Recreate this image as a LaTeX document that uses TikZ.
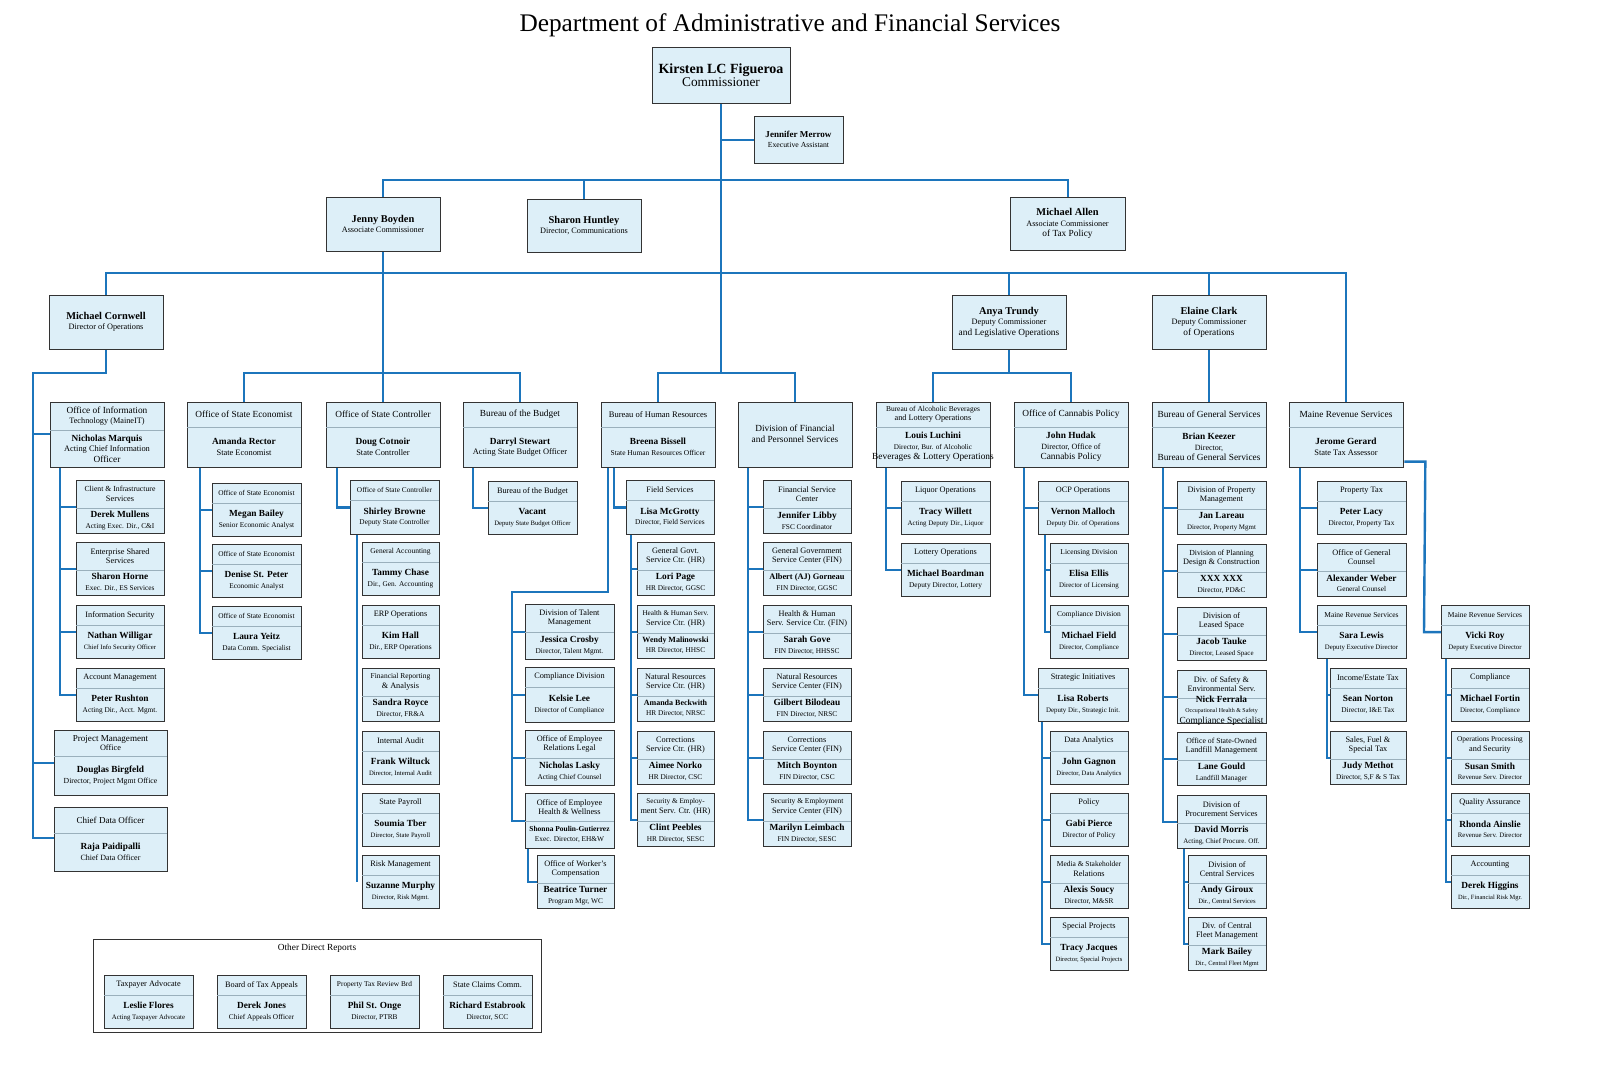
\documentclass[tikz,border=0pt]{standalone}
\usepackage{fontspec}
\setmainfont{Liberation Serif}
\newcommand\fs[1]{\fontsize{#1pt}{\dimexpr#1pt+0.9pt\relax}\selectfont}
\newcommand\ts{\fs{5.5}}
\definecolor{lnc}{HTML}{1C75BC}
\definecolor{bxf}{HTML}{DDEFF8}
\definecolor{bxd}{HTML}{333333}
\definecolor{dvc}{HTML}{9AB0BC}
\tikzset{
 bx/.style={draw=bxd,fill=bxf,line width=1pt,anchor=north west,inner sep=0pt},
 dv/.style={draw=dvc,line width=0.5pt},
 hd/.style={align=center,inner sep=0pt,font=\fs{6.2}},
 nm/.style={align=center,inner sep=0pt,font=\fs{7}},
 ln/.style={draw=lnc,line width=1.8pt},
}
\newcommand\ob[9]{%
\node[bx,minimum width={#4*0.75pt},minimum height={#5*0.75pt}] (#1) at (#2,#3) {};
\ifnum#6>0\relax
\draw[dv] (#2,#3+#6) -- ++(#4,0);
\node[hd] at ({#2+#4/2},{#3+#6/2}) {#7};
\fi
\node[nm] at ({#2+#4/2},{#3+(#6+#5)/2}) {\textbf{#8}\\\ts #9};}
\newcommand\spn[4]{\draw[ln] (#1.south -| #2,0) -- (#3.west -| #2,0) -- (#3.west);
\foreach \c in {#4}{\draw[ln] (\c.west -| #2,0) -- (\c.west);}}
\begin{document}
\begin{tikzpicture}[x=0.75pt,y=-0.75pt]
\useasboundingbox (0,0) rectangle (1600,1091);
\node[font=\fs{19}] (title) at (790,25) {Department of Administrative and Financial Services};
% ---------- connectors (drawn first) ----------
\coordinate (k0) at (721,103);
\draw[ln] (k0) -- (721,373);
\draw[ln] (721,140) -- (754,140);
\draw[ln] (383,197) -- (383,180) -- (1068,180) -- (1068,197);
\draw[ln] (584,180) -- (584,199);
\draw[ln] (106,295) -- (106,273) -- (1346,273) -- (1346,402);
\draw[ln] (1009,273) -- (1009,295);
\draw[ln] (1209,273) -- (1209,295);
\draw[ln] (383,251) -- (383,402);
\draw[ln] (244,402) -- (244,373) -- (520,373) -- (520,402);
\draw[ln] (658,402) -- (658,373) -- (795,373) -- (795,402);
\draw[ln] (1009,349) -- (1009,373);
\draw[ln] (933,402) -- (933,373) -- (1071,373) -- (1071,402);
\draw[ln] (1209,349) -- (1209,402);
\draw[ln] (106,349) -- (106,373) -- (33,373) -- (33,838) -- (54,838);
\draw[ln] (33,434) -- (50,434);
\draw[ln] (33,763) -- (54,763);
% ---------- top ----------
\ob{kf}{652}{47}{138}{56}{0}{}{\fs{10.5}Kirsten LC Figueroa}{\fs{10}Commissioner}
\ob{jm}{754}{116}{89}{47}{0}{}{\fs{6.8}Jennifer Merrow}{\fs{5.8}Executive Assistant}
\ob{jb}{326}{197}{114}{54}{0}{}{\fs{7.8}Jenny Boyden}{\fs{6.2}Associate Commissioner}
\ob{sh}{527}{199}{114}{53}{0}{}{\fs{7.8}Sharon Huntley}{\fs{6.2}Director, Communications}
\ob{ma}{1010}{197}{115}{53}{0}{}{\fs{7.8}Michael Allen}{\fs{6.2}Associate Commissioner\\of Tax Policy}
\ob{mc}{49}{295}{114}{54}{0}{}{\fs{7.8}Michael Cornwell}{\fs{6.2}Director of Operations}
\ob{at}{952}{295}{114}{54}{0}{}{\fs{7.8}Anya Trundy}{\fs{6.2}Deputy Commissioner\\and Legislative Operations}
\ob{ec}{1152}{295}{114}{54}{0}{}{\fs{7.8}Elaine Clark}{\fs{6.2}Deputy Commissioner\\of Operations}
% ---------- row 3 ----------
\ob{mit}{50}{402}{114}{65}{28}{\fs{7}Office of Information\\Technology (MaineIT)}{Nicholas Marquis}{\fs{6.3}Acting Chief Information\\Officer}
\ob{ose}{187}{402}{114}{65}{25}{\fs{7}Office of State Economist}{Amanda Rector}{\fs{6.3}State Economist}
\ob{osc}{326}{402}{114}{65}{25}{\fs{7}Office of State Controller}{Doug Cotnoir}{\fs{6.3}State Controller}
\ob{bob}{463}{402}{114}{65}{25}{\fs{7}Bureau of the Budget}{Darryl Stewart}{\fs{6.3}Acting State Budget Officer}
\ob{hr}{601}{402}{114}{65}{25}{\fs{6.4}Bureau of Human Resources}{Breena Bissell}{\fs{5.6}State Human Resources Officer}
\node[bx,minimum width=85.5pt,minimum height=48.75pt] (dfps) at (738,402) {};
\node[hd,font=\fs{7}] at (795,434) {Division of Financial\\and Personnel Services};
\ob{ablo}{876}{402}{114}{65}{25}{\fs{5.6}Bureau of Alcoholic Beverages\\and Lottery Operations}{Louis Luchini}{\fs{5.4}Director, Bur. of Alcoholic\\Beverages \& Lottery Operations}
\ob{can}{1014}{402}{114}{65}{25}{\fs{7}Office of Cannabis Policy}{John Hudak}{\fs{6}Director, Office of\\Cannabis Policy}
\ob{bgs}{1152}{402}{114}{65}{25}{\fs{7}Bureau of General Services}{Brian Keezer}{\fs{6}Director,\\Bureau of General Services}
\ob{mrs}{1289}{402}{114}{65}{25}{\fs{7}Maine Revenue Services}{Jerome Gerard}{\fs{6.3}State Tax Assessor}
% ---------- MaineIT ----------
\ob{cis}{76}{480}{88}{53}{28}{\fs{5.8}Client \& Infrastructure\\Services}{Derek Mullens}{Acting Exec. Dir., C\&I}
\ob{ess}{76}{542}{88}{53}{28}{Enterprise Shared\\Services}{Sharon Horne}{Exec. Dir., ES Services}
\ob{ins}{76}{605}{88}{53}{20}{Information Security}{Nathan Willigar}{\fs{5}Chief Info Security Officer}
\ob{acm}{76}{668}{88}{53}{20}{Account Management}{Peter Rushton}{Acting Dir., Acct. Mgmt.}
\spn{mit}{60}{acm}{cis,ess,ins}
\ob{pmo}{54}{730}{113}{65}{26}{\fs{6.8}Project Management\\Office}{Douglas Birgfeld}{\fs{5.8}Director, Project Mgmt Office}
\ob{cdo}{54}{807}{113}{64}{26}{\fs{6.8}Chief Data Officer}{Raja Paidipalli}{\fs{6}Chief Data Officer}
% ---------- Economist ----------
\ob{eco1}{212}{483}{89}{53}{20}{\fs{5.5}Office of State Economist}{Megan Bailey}{Senior Economic Analyst}
\ob{eco2}{212}{544}{89}{53}{20}{\fs{5.5}Office of State Economist}{Denise St. Peter}{Economic Analyst}
\ob{eco3}{212}{606}{89}{53}{20}{\fs{5.5}Office of State Economist}{Laura Yeitz}{Data Comm. Specialist}
\spn{ose}{200}{eco3}{eco1,eco2}
% ---------- Controller ----------
\ob{sb}{350}{480}{89}{54}{20}{\fs{5.5}Office of State Controller}{Shirley Browne}{Deputy State Controller}
\spn{osc}{337}{sb}{sb}
\ob{ga}{362}{542}{77}{53}{20}{\fs{5.6}General Accounting}{Tammy Chase}{Dir., Gen. Accounting}
\ob{erp}{362}{605}{77}{53}{20}{ERP Operations}{Kim Hall}{Dir., ERP Operations}
\ob{fra}{362}{668}{77}{53}{28}{\fs{5.6}Financial Reporting\\\& Analysis}{Sandra Royce}{Director, FR\&A}
\ob{ia}{362}{731}{77}{53}{20}{Internal Audit}{Frank Wiltuck}{\fs{5}Director, Internal Audit}
\ob{sp}{362}{793}{77}{53}{20}{State Payroll}{Soumia Tber}{\fs{5}Director, State Payroll}
\ob{rm}{362}{855}{77}{53}{20}{Risk Management}{Suzanne Murphy}{\fs{5}Director, Risk Mgmt.}
\draw[ln] (sb.south -| 357,0) -- (rm.west -| 357,0);
% ---------- Budget ----------
\ob{bb}{488}{481}{89}{53}{20}{Bureau of the Budget}{Vacant}{\fs{5}Deputy State Budget Officer}
\spn{bob}{473}{bb}{bb}
% ---------- HR ----------
\ob{fs}{626}{480}{88}{54}{20}{Field Services}{Lisa McGrotty}{Director, Field Services}
\spn{hr}{614}{fs}{fs}
\ob{gg}{637}{542}{77}{53}{28}{General Govt.\\Service Ctr. (HR)}{Lori Page}{HR Director, GGSC}
\ob{hh}{637}{605}{77}{53}{28}{\fs{5.4}Health \& Human Serv.\\Service Ctr. (HR)}{\fs{6}Wendy Malinowski}{HR Director, HHSC}
\ob{nr}{637}{668}{77}{53}{28}{Natural Resources\\Service Ctr. (HR)}{\fs{6}Amanda Beckwith}{HR Director, NRSC}
\ob{cs}{637}{731}{77}{53}{28}{Corrections\\Service Ctr. (HR)}{Aimee Norko}{HR Director, CSC}
\ob{se}{637}{793}{77}{53}{28}{\fs{5.4}Security \& Employ-\\ment Serv. Ctr. (HR)}{Clint Peebles}{HR Director, SESC}
\spn{fs}{631}{se}{gg,hh,nr,cs}
\ob{tm}{525}{604}{89}{55}{28}{Division of Talent\\Management}{Jessica Crosby}{Director, Talent Mgmt.}
\ob{cd}{525}{667}{89}{55}{20}{Compliance Division}{Kelsie Lee}{Director of Compliance}
\ob{erl}{525}{730}{89}{55}{28}{Office of Employee\\Relations Legal}{Nicholas Lasky}{Acting Chief Counsel}
\ob{ehw}{525}{793}{89}{55}{28}{Office of Employee\\Health \& Wellness}{\fs{5.6}Shonna Poulin-Gutierrez}{Exec. Director, EH\&W}
\draw[ln] (hr.south -| 608,0) -- (608,592) -- (512,592) -- (ehw.west -| 512,0) -- (ehw.west);
\foreach \c in {tm,cd,erl}{\draw[ln] (\c.west -| 512,0) -- (\c.west);}
\ob{wc}{537}{855}{77}{53}{28}{Office of Worker's\\Compensation}{Beatrice Turner}{Program Mgr, WC}
\spn{ehw}{528}{wc}{wc}
% ---------- DFPS ----------
\ob{fsc}{763}{480}{88}{53}{28}{Financial Service\\Center}{Jennifer Libby}{FSC Coordinator}
\ob{ggf}{763}{542}{88}{53}{28}{General Government\\Service Center (FIN)}{\fs{6.3}Albert (AJ) Gorneau}{FIN Director, GGSC}
\ob{hhf}{763}{605}{88}{53}{28}{Health \& Human\\Serv. Service Ctr. (FIN)}{Sarah Gove}{FIN Director, HHSSC}
\ob{nrf}{763}{668}{88}{53}{28}{Natural Resources\\Service Center (FIN)}{Gilbert Bilodeau}{FIN Director, NRSC}
\ob{csf}{763}{731}{88}{53}{28}{Corrections\\Service Center (FIN)}{Mitch Boynton}{FIN Director, CSC}
\ob{sef}{763}{793}{88}{53}{28}{\fs{5.6}Security \& Employment\\Service Center (FIN)}{Marilyn Leimbach}{FIN Director, SESC}
\spn{dfps}{748}{sef}{fsc,ggf,hhf,nrf,csf}
% ---------- ABLO ----------
\ob{lq}{901}{481}{89}{53}{20}{Liquor Operations}{Tracy Willett}{\fs{5.2}Acting Deputy Dir., Liquor}
\ob{lo}{901}{543}{89}{53}{20}{Lottery Operations}{Michael Boardman}{Deputy Director, Lottery}
\spn{ablo}{886}{lo}{lq}
% ---------- Cannabis ----------
\ob{ocp}{1038}{481}{90}{53}{20}{OCP Operations}{Vernon Malloch}{\fs{5.2}Deputy Dir. of Operations}
\ob{si}{1038}{668}{90}{53}{20}{Strategic Initiatives}{Lisa Roberts}{\fs{5.2}Deputy Dir., Strategic Init.}
\spn{can}{1024}{si}{ocp}
\ob{ld}{1050}{543}{78}{53}{20}{\fs{5.6}Licensing Division}{Elisa Ellis}{\fs{5.2}Director of Licensing}
\ob{cpd}{1050}{605}{78}{53}{20}{\fs{5.6}Compliance Division}{Michael Field}{\fs{5.2}Director, Compliance}
\spn{ocp}{1045}{cpd}{ld}
\ob{da}{1050}{731}{78}{53}{20}{Data Analytics}{John Gagnon}{\fs{5}Director, Data Analytics}
\ob{pol}{1050}{793}{78}{53}{20}{Policy}{Gabi Pierce}{Director of Policy}
\ob{msr}{1050}{855}{78}{53}{28}{\fs{5.6}Media \& Stakeholder\\Relations}{Alexis Soucy}{Director, M\&SR}
\ob{spj}{1050}{917}{78}{53}{20}{Special Projects}{Tracy Jacques}{\fs{4.9}Director, Special Projects}
\spn{si}{1042}{spj}{da,pol,msr}
% ---------- BGS ----------
\ob{dpm}{1177}{481}{89}{53}{28}{Division of Property\\Management}{Jan Lareau}{\fs{5.2}Director, Property Mgmt}
\ob{dpd}{1177}{544}{89}{53}{28}{\fs{5.8}Division of Planning\\Design \& Construction}{XXX XXX}{Director, PD\&C}
\ob{dls}{1177}{607}{89}{53}{28}{Division of\\Leased Space}{Jacob Tauke}{\fs{5.2}Director, Leased Space}
\ob{dse}{1177}{670}{89}{53}{28}{Div. of Safety \&\\Environmental Serv.}{Nick Ferrala}{\fs{4.5}Occupational Health \& Safety\\Compliance Specialist}
\ob{osl}{1177}{732}{89}{53}{28}{\fs{5.8}Office of State-Owned\\Landfill Management}{Lane Gould}{Landfill Manager}
\ob{dps}{1177}{795}{89}{53}{28}{Division of\\Procurement Services}{David Morris}{\fs{5.2}Acting, Chief Procure. Off.}
\spn{bgs}{1163}{dps}{dpm,dpd,dls,dse,osl}
\ob{dcs}{1188}{855}{78}{53}{28}{Division of\\Central Services}{Andy Giroux}{\fs{5}Dir., Central Services}
\ob{dcf}{1188}{917}{78}{53}{28}{Div. of Central\\Fleet Management}{Mark Bailey}{\fs{4.8}Dir., Central Fleet Mgmt}
\spn{dps}{1184}{dcf}{dcs}
% ---------- MRS ----------
\ob{pt}{1317}{481}{89}{53}{20}{Property Tax}{Peter Lacy}{Director,  Property Tax}
\ob{ogc}{1317}{543}{89}{53}{28}{Office of General\\Counsel}{Alexander Weber}{General Counsel}
\ob{sl}{1317}{605}{89}{53}{20}{\fs{5.6}Maine Revenue Services}{Sara Lewis}{\fs{5.1}Deputy Executive Director}
\spn{mrs}{1300}{sl}{pt,ogc}
\ob{iet}{1330}{668}{76}{53}{20}{Income/Estate Tax}{Sean Norton}{Director, I\&E Tax}
\ob{sfs}{1330}{731}{76}{53}{28}{Sales, Fuel \&\\Special Tax}{Judy Methot}{Director, S,F \& S Tax}
\spn{sl}{1327}{sfs}{iet}
\ob{vr}{1441}{605}{88}{53}{20}{\fs{5.6}Maine Revenue Services}{Vicki Roy}{\fs{5.1}Deputy Executive Director}
\draw[ln] ([yshift=5pt]mrs.south east) -- ++(21,0) -- (vr.west -| 1424,0) -- (vr.west);
\ob{cmp}{1451}{668}{78}{53}{20}{Compliance}{Michael Fortin}{\fs{5.2}Director, Compliance}
\ob{ops}{1451}{731}{78}{53}{28}{\fs{5.5}Operations Processing\\and Security}{Susan Smith}{\fs{5.1}Revenue Serv. Director}
\ob{qa}{1451}{793}{78}{53}{20}{Quality Assurance}{Rhonda Ainslie}{\fs{5.1}Revenue Serv. Director}
\ob{acc}{1451}{855}{78}{53}{20}{Accounting}{Derek Higgins}{\fs{4.8}Dir., Financial Risk Mgr.}
\spn{vr}{1446}{acc}{cmp,ops,qa}
% ---------- Other direct reports ----------
\node[draw=bxd,line width=0.8pt,anchor=north west,minimum width=336pt,minimum height=69.75pt,inner sep=0pt] (odr) at (93,939) {};
\node[font=\fs{7}] (odrl) at (317,948) {Other Direct Reports};
\ob{ta}{104}{975}{89}{53}{20}{Taxpayer Advocate}{Leslie Flores}{\fs{5.1}Acting Taxpayer Advocate}
\ob{bta}{217}{975}{89}{53}{20}{Board of Tax Appeals}{Derek Jones}{Chief Appeals Officer}
\ob{ptr}{330}{975}{89}{53}{20}{\fs{5.5}Property Tax Review Brd}{Phil St. Onge}{Director, PTRB}
\ob{scc}{443}{975}{89}{53}{20}{State Claims Comm.}{Richard Estabrook}{Director, SCC}
\end{tikzpicture}
\end{document}
